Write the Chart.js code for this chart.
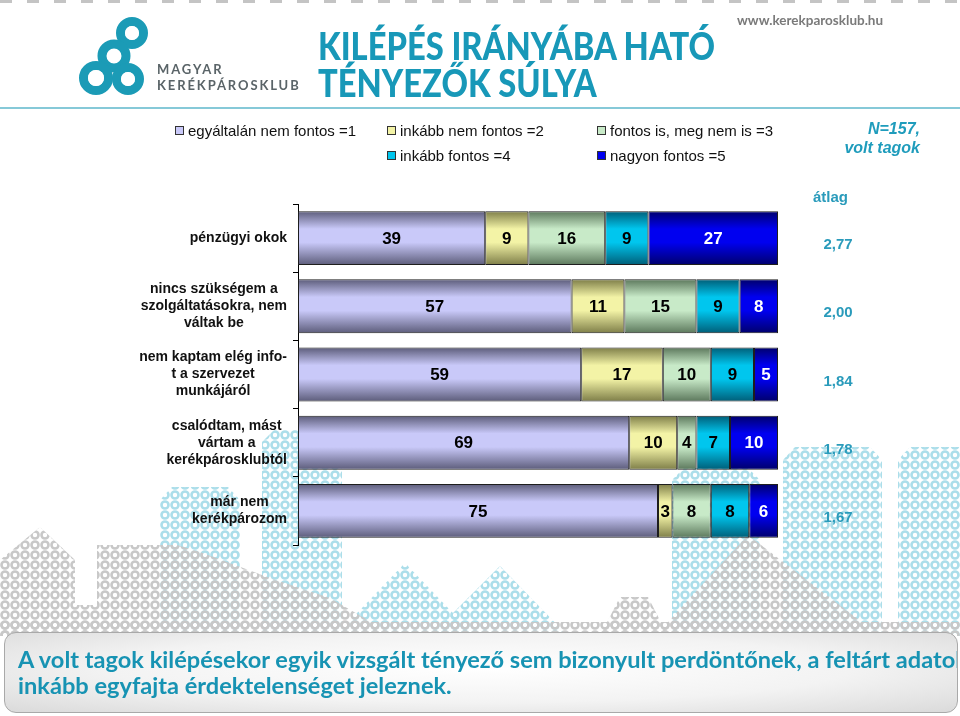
<!DOCTYPE html>
<html lang="hu">
<head>
<meta charset="utf-8">
<title>Kilépés irányába ható tényezők súlya</title>
<script src="https://cdn.jsdelivr.net/npm/chart.js@4.4.1/dist/chart.umd.min.js"></script>
<style>
  html, body { margin: 0; padding: 0; background: #fff; }
  #slide { position: relative; width: 960px; height: 716px; overflow: hidden; background: #fff; font-family: 'Liberation Sans', Arial, sans-serif; }
  #deco, #chart { position: absolute; left: 0; top: 0; }
  .dots { position: absolute; left: 0; top: 0; width: 960px; height: 3px;
    background: repeating-linear-gradient(90deg, #c4c4c4 0 12px, transparent 12px 27px); }
  .rule { position: absolute; left: 0; top: 107px; width: 960px; height: 2px; background: #86c9d8; }
  .brand { position: absolute; left: 157px; top: 61px; font-family: Lato, sans-serif; font-weight: 700; font-size: 13px; line-height: 16px; letter-spacing: 1.9px; color: #5a6468; }
  .web { position: absolute; left: 737px; top: 12px; font-family: Lato, sans-serif; font-weight: 700; font-size: 13.5px; color: #7a7a7a; }
  .title { position: absolute; left: 318px; top: 27px; font-family: Lato, sans-serif; font-weight: 900; font-size: 38px; line-height: 37px; color: #1898b8; transform: scaleX(0.86); transform-origin: left top; white-space: nowrap; }
  #legend { position: absolute; left: 175px; top: 118px; display: grid; grid-template-columns: 212px 210px auto; grid-auto-rows: 25px; font-size: 15px; color: #111; }
  #legend div { display: flex; align-items: center; white-space: nowrap; }
  #legend span.box { width: 7px; height: 7px; border: 1px solid #333; margin-right: 4px; }
  .n { position: absolute; right: 40px; top: 119px; text-align: right; font-weight: 700; font-style: italic; font-size: 16px; line-height: 19px; color: #1f9cbc; }
  .avg { position: absolute; left: 813px; top: 188px; font-weight: 700; font-size: 15px; color: #2a9bbb; }
  .note { position: absolute; left: 4px; top: 632px; width: 952px; height: 79px; border: 1.5px solid #a9a9a9; border-radius: 12px;
    background: radial-gradient(ellipse at 50% 45%, #ffffff 0%, #f3f3f3 55%, #dadada 100%); overflow: hidden; }
  .note p { margin: 0; position: absolute; left: 13px; top: 13px; font-family: Lato, sans-serif; font-weight: 700; font-size: 23.6px; line-height: 26px; color: #1793b3; white-space: nowrap; }
</style>
</head>
<body>
<div id="slide">
  <svg id="deco" width="960" height="716">
    <defs>
      <pattern id="ringGray" width="10" height="10" patternUnits="userSpaceOnUse">
        <circle cx="5" cy="5" r="3.5" fill="none" stroke="#c8c8c8" stroke-width="2.6"/>
      </pattern>
      <pattern id="ringTeal" width="10" height="10" patternUnits="userSpaceOnUse">
        <circle cx="5" cy="5" r="3.5" fill="none" stroke="#acdeea" stroke-width="2.6"/>
      </pattern>
    </defs>
    <g fill="url(#ringTeal)">
      <polygon points="160,636 160,500 172,487 228,487 240,500 240,636"/>
      <polygon points="262,636 262,442 274,430 330,430 342,442 342,636"/>
      <polygon points="335,636 405,563 475,636"/>
      <polygon points="430,636 500,566 568,636"/>
      <polygon points="672,636 672,480 684,468 748,468 760,480 760,636"/>
      <polygon points="783,636 783,460 795,447 870,447 882,460 882,636"/>
      <polygon points="898,636 898,460 910,447 960,447 960,636"/>
    </g>
    <g fill="url(#ringGray)">
      <polygon points="0,636 0,560 40,527 75,560 75,605 97,605 97,545 177,545 200,552 270,578 330,598 395,636"/>
      <polygon points="600,636 620,597 648,597 668,636"/>
      <polygon points="655,636 748,535 880,636"/>
      <rect x="0" y="622" width="960" height="14"/>
    </g>
    <g fill="none" stroke="#1b9bb6" stroke-width="9">
      <circle cx="132" cy="33" r="11.5"/>
      <circle cx="114" cy="56" r="12"/>
      <circle cx="96" cy="78" r="12.5"/>
      <circle cx="128" cy="79" r="11.5"/>
    </g>
    <g fill="#fff">
      <circle cx="132" cy="33" r="7"/>
      <circle cx="96" cy="78" r="8"/>
      <circle cx="128" cy="79" r="7"/>
    </g>
  </svg>
  <canvas id="chart" width="960" height="716"></canvas>
  <div class="dots"></div>
  <div class="rule"></div>
  <div class="brand">MAGYAR<br>KERÉKPÁROSKLUB</div>
  <div class="web">www.kerekparosklub.hu</div>
  <div class="title">KILÉPÉS IRÁNYÁBA HATÓ<br>TÉNYEZŐK SÚLYA</div>
  <div id="legend"></div>
  <div class="n">N=157,<br>volt tagok</div>
  <div class="avg">átlag</div>
  <div class="note"><p>A volt tagok kilépésekor egyik vizsgált tényező sem bizonyult perdöntőnek, a feltárt adatok<br>inkább egyfajta érdektelenséget jeleznek.</p></div>
</div>
<script>
const categories = [
  ['pénzügyi okok'],
  ['nincs szükségem a', 'szolgáltatásokra, nem', 'váltak be'],
  ['nem kaptam elég info-', 't a szervezet', 'munkájáról'],
  ['csalódtam, mást', 'vártam a', 'kerékpárosklubtól'],
  ['már nem', 'kerékpározom']
];
const seriesNames = ['egyáltalán nem fontos =1', 'inkább nem fontos =2', 'fontos is, meg nem is =3', 'inkább fontos =4', 'nagyon fontos =5'];
const notImportant = [39, 57, 59, 69, 75];
const ratherNot = [9, 11, 17, 10, 3];
const neutral = [16, 15, 10, 4, 8];
const ratherImportant = [9, 9, 9, 7, 8];
const veryImportant = [27, 8, 5, 10, 6];
const averages = ['2,77', '2,00', '1,84', '1,78', '1,67'];

const fillColors = ['#c9c9f9', '#f3f3a6', '#c8eac8', '#00c6ee', '#0000f0'];
const edgeColors = ['#5c5c7a', '#7e7e48', '#5c785c', '#005e78', '#00006c'];
const labelColors = ['#000', '#000', '#000', '#000', '#fff'];
const barPct = 0.79;

// cylinder-like shading, dark at the top and bottom edge of every bar
function barFill(c, i) {
    const y = c.chart.scales.y;
    if (!y || c.dataIndex === undefined) return fillColors[i];
    const mid = y.getPixelForValue(c.dataIndex);
    const half = (y.getPixelForValue(1) - y.getPixelForValue(0)) * barPct / 2;
    if (!Number.isFinite(mid) || !Number.isFinite(half) || half <= 0) return fillColors[i];
    const g = c.chart.ctx.createLinearGradient(0, mid - half, 0, mid + half);
    g.addColorStop(0, edgeColors[i]);
    g.addColorStop(0.33, fillColors[i]);
    g.addColorStop(0.58, fillColors[i]);
    g.addColorStop(1, edgeColors[i]);
    return g;
}

const seriesData = [notImportant, ratherNot, neutral, ratherImportant, veryImportant];

const datasets = seriesData.map((data, i) => ({
    label: seriesNames[i],
    data: data,
    backgroundColor: c => barFill(c, i),
    borderColor: '#1e1e1e',
    borderWidth: 1,
    borderSkipped: false,
    barPercentage: barPct,
    categoryPercentage: 1
}));

const legend = document.getElementById('legend');
datasets.forEach((ds, i) => {
    const item = document.createElement('div');
    const box = document.createElement('span');
    box.className = 'box';
    box.style.background = fillColors[i];
    item.appendChild(box);
    item.appendChild(document.createTextNode(ds.label));
    legend.appendChild(item);
    if (i === 2) legend.appendChild(document.createElement('span'));
});

const valueLabels = {
    id: 'valueLabels',
    afterDatasetsDraw(chart) {
        const ctx = chart.ctx;
        ctx.save();
        ctx.font = 'bold 17px "Liberation Sans", Arial, sans-serif';
        ctx.textAlign = 'center';
        ctx.textBaseline = 'middle';
        chart.data.datasets.forEach((ds, i) => {
            chart.getDatasetMeta(i).data.forEach((bar, j) => {
                const p = bar.getCenterPoint();
                ctx.fillStyle = labelColors[i];
                ctx.fillText(ds.data[j], p.x, p.y + 1);
            });
        });
        ctx.restore();
    }
};

// category labels: block right-aligned, lines centred inside the block (like Excel)
const categoryLabels = {
    id: 'categoryLabels',
    afterDraw(chart) {
        const ctx = chart.ctx;
        const y = chart.scales.y;
        const right = chart.chartArea.left - 11;
        ctx.save();
        ctx.font = 'bold 14px "Liberation Sans", Arial, sans-serif';
        ctx.fillStyle = '#111';
        ctx.textAlign = 'center';
        ctx.textBaseline = 'middle';
        chart.data.labels.forEach((lines, i) => {
            const widest = Math.max(...lines.map(l => ctx.measureText(l).width));
            const cx = right - widest / 2;
            const cy = y.getPixelForValue(i);
            const lh = 17;
            lines.forEach((l, k) => {
                ctx.fillText(l, cx, cy + (k - (lines.length - 1) / 2) * lh);
            });
        });
        ctx.font = 'bold 15px "Liberation Sans", Arial, sans-serif';
        ctx.fillStyle = '#2a9bbb';
        averages.forEach((a, i) => {
            ctx.fillText(a, 838, y.getPixelForValue(i) + 7);
        });
        ctx.restore();
    }
};

new Chart(document.getElementById('chart'), {
    type: 'bar',
    data: { labels: categories, datasets: datasets },
    options: {
        indexAxis: 'y',
        responsive: false,
        animation: false,
        layout: { padding: { top: 204, bottom: 171, right: 182, left: 0 } },
        plugins: {
            legend: { display: false },
            tooltip: { enabled: false }
        },
        scales: {
            x: { stacked: true, min: 0, max: 100, display: false },
            y: {
                stacked: true,
                afterFit: s => { s.width = 298; },
                border: { display: true, color: '#000', width: 1 },
                grid: { display: true, drawOnChartArea: false, drawTicks: true, tickLength: 5, color: '#000', offset: true },
                ticks: { display: false }
            }
        }
    },
    plugins: [valueLabels, categoryLabels]
});
</script>
</body>
</html>
